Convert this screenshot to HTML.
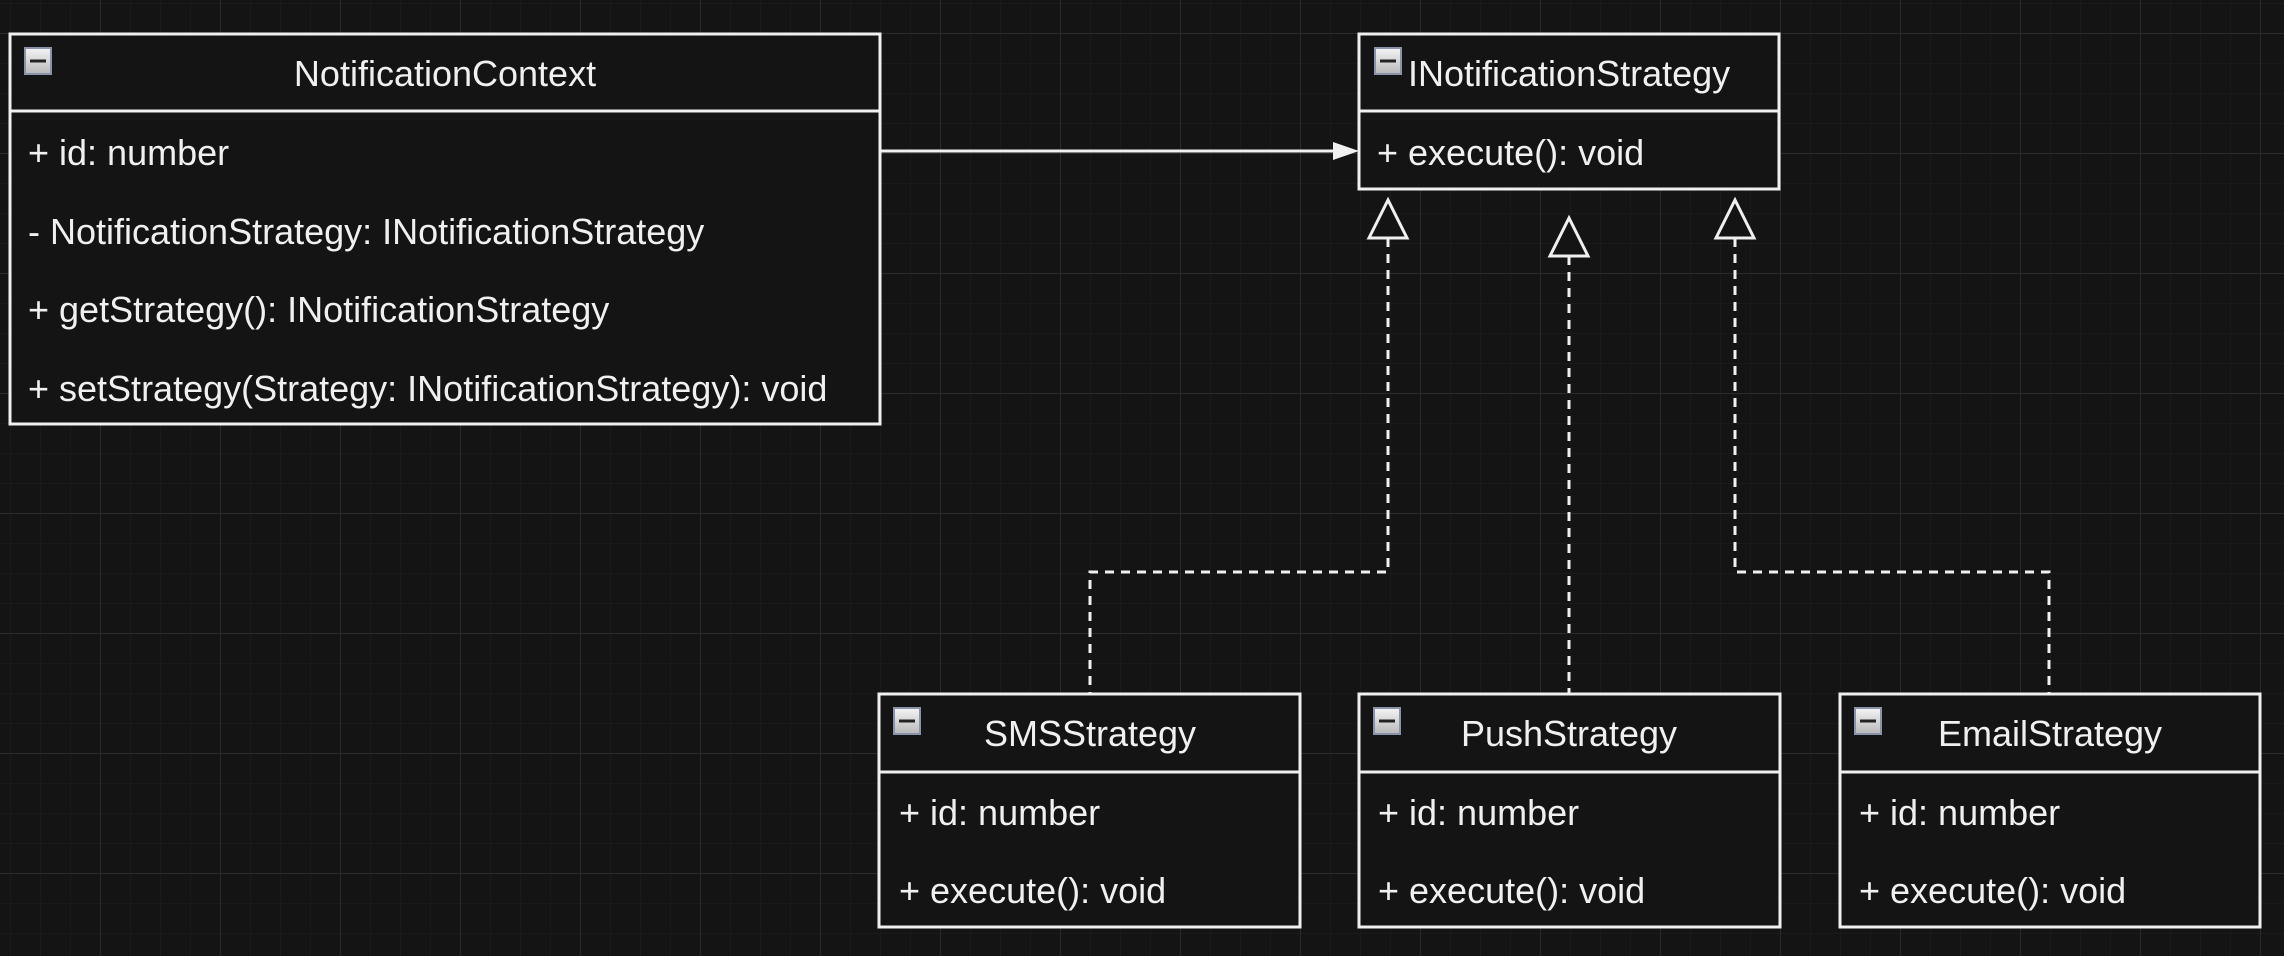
<!DOCTYPE html>
<html><head><meta charset="utf-8"><style>
html,body{margin:0;padding:0;background:#141414;}
svg{display:block;}
text{font-family:"Liberation Sans",Arial,sans-serif;fill:#f0f0f0;font-size:36px;}
</style></head><body>
<svg width="2284" height="956" viewBox="0 0 2284 956" xmlns="http://www.w3.org/2000/svg">
<defs>
<pattern id="minor" x="10" y="3" width="30" height="30" patternUnits="userSpaceOnUse">
<path d="M0 0H30M0 0V30" stroke="#1f1f1f" stroke-width="1" fill="none"/>
</pattern>
<pattern id="major" x="100" y="33" width="120" height="120" patternUnits="userSpaceOnUse">
<path d="M0 0.5H120M0.5 0V120" stroke="#2b2b2b" stroke-width="1" fill="none"/>
</pattern>
<linearGradient id="ig" x1="0" y1="0" x2="0" y2="1"><stop offset="0" stop-color="#f4f4f4"/><stop offset="1" stop-color="#b8b8b8"/></linearGradient>
</defs>
<rect width="2284" height="956" fill="#141414"/>
<rect width="2284" height="956" fill="url(#minor)"/>
<rect width="2284" height="956" fill="url(#major)"/>

<g fill="#141414" stroke="#f0f0f0" stroke-width="3">
<rect x="10" y="34" width="870" height="390"/><line x1="10" y1="111" x2="880" y2="111"/>
<rect x="1359" y="34" width="420" height="155"/><line x1="1359" y1="111" x2="1779" y2="111"/>
<rect x="879" y="694" width="421" height="233"/><line x1="879" y1="772" x2="1300" y2="772"/>
<rect x="1359" y="694" width="421" height="233"/><line x1="1359" y1="772" x2="1780" y2="772"/>
<rect x="1840" y="694" width="420" height="233"/><line x1="1840" y1="772" x2="2260" y2="772"/>
</g>

<g stroke="#8a93a8" stroke-width="2" fill="url(#ig)">
<rect x="25" y="48" width="26" height="26"/>
<rect x="1375" y="48" width="26" height="26"/>
<rect x="894" y="708" width="26" height="26"/>
<rect x="1374" y="708" width="26" height="26"/>
<rect x="1855" y="708" width="26" height="26"/>
</g>
<g stroke="#222" stroke-width="3">
<line x1="30" y1="61" x2="46" y2="61"/><line x1="1380" y1="61" x2="1396" y2="61"/>
<line x1="899" y1="721" x2="915" y2="721"/><line x1="1379" y1="721" x2="1395" y2="721"/>
<line x1="1860" y1="721" x2="1876" y2="721"/>
</g>

<!-- association -->
<line x1="880" y1="151" x2="1335" y2="151" stroke="#f0f0f0" stroke-width="3"/>
<polygon points="1359,151 1333,142 1333,160" fill="#f0f0f0"/>

<!-- realizations -->
<g stroke="#f0f0f0" stroke-width="3" fill="none" stroke-dasharray="9,7">
<path d="M1388 238V572H1090V694"/>
<path d="M1569 256V694"/>
<path d="M1735 238V572H2049V694"/>
</g>
<g stroke="#f0f0f0" stroke-width="3" fill="#141414">
<polygon points="1388,200 1369,238 1407,238"/>
<polygon points="1569,218 1550,256 1588,256"/>
<polygon points="1735,200 1716,238 1754,238"/>
</g>

<text x="445" y="86" text-anchor="middle">NotificationContext</text>
<text x="28" y="165">+ id: number</text>
<text x="28" y="244">- NotificationStrategy: INotificationStrategy</text>
<text x="28" y="322">+ getStrategy(): INotificationStrategy</text>
<text x="28" y="401">+ setStrategy(Strategy: INotificationStrategy): void</text>

<text x="1408" y="86">INotificationStrategy</text>
<text x="1377" y="165">+ execute(): void</text>

<text x="1090" y="746" text-anchor="middle">SMSStrategy</text>
<text x="899" y="825">+ id: number</text>
<text x="899" y="903">+ execute(): void</text>

<text x="1569" y="746" text-anchor="middle">PushStrategy</text>
<text x="1378" y="825">+ id: number</text>
<text x="1378" y="903">+ execute(): void</text>

<text x="2050" y="746" text-anchor="middle">EmailStrategy</text>
<text x="1859" y="825">+ id: number</text>
<text x="1859" y="903">+ execute(): void</text>
</svg>
</body></html>
